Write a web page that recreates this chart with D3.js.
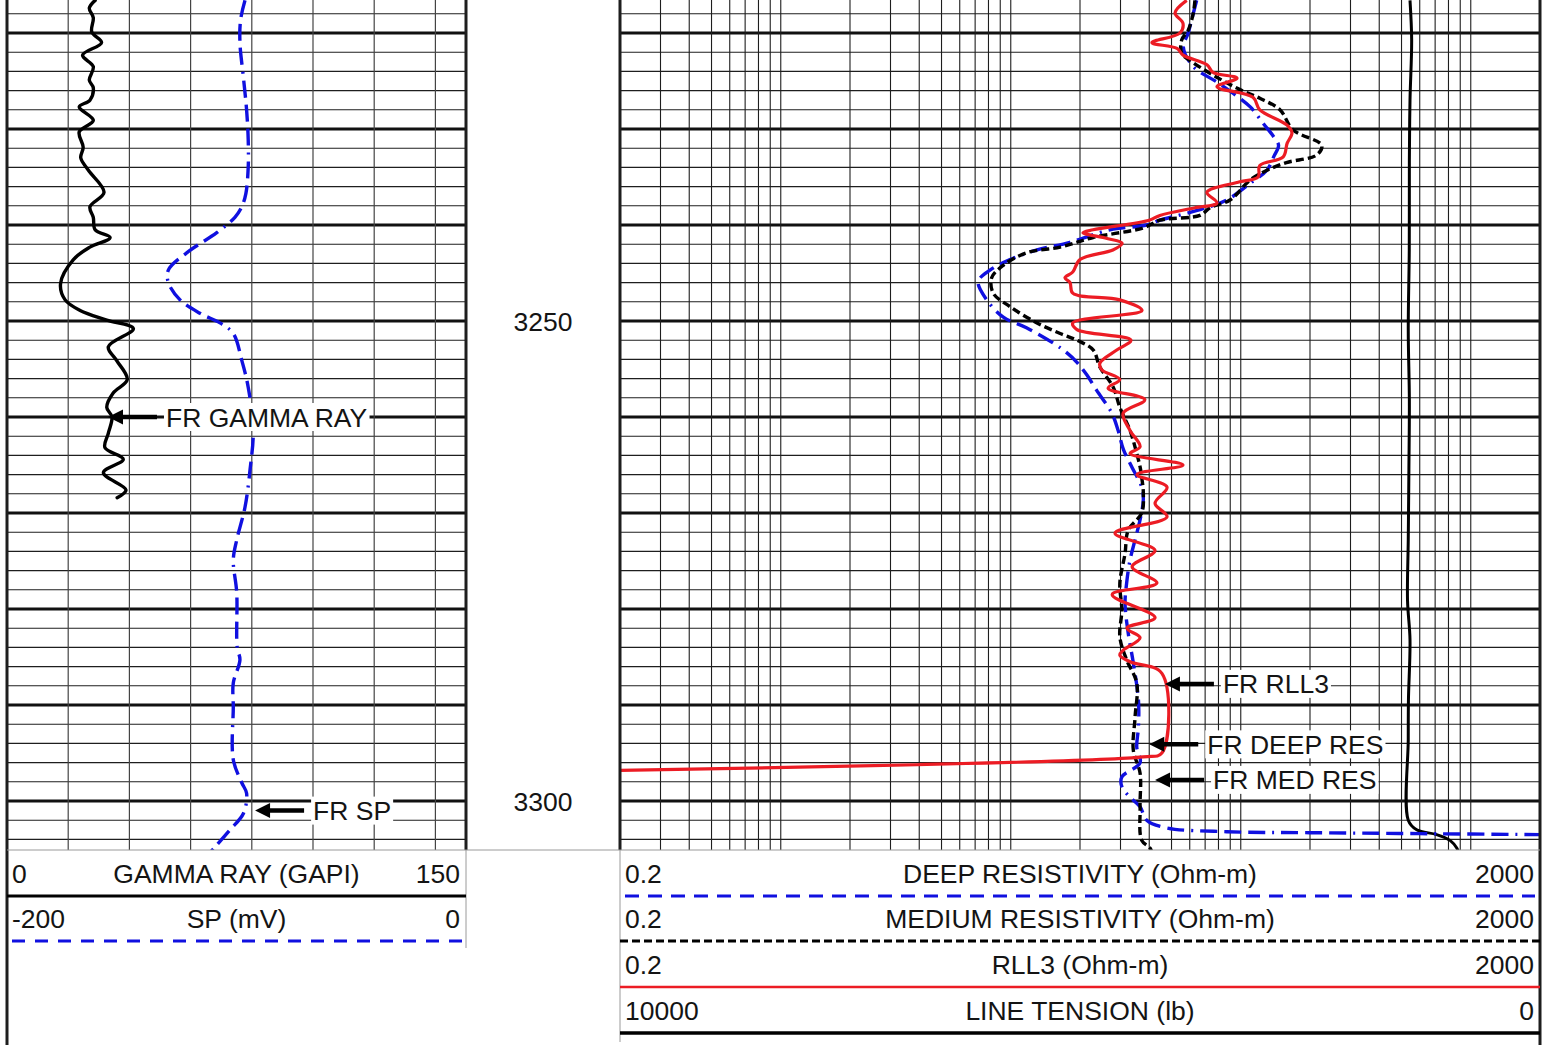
<!DOCTYPE html>
<html>
<head>
<meta charset="utf-8">
<script src="https://cdn.jsdelivr.net/npm/d3@7"></script>
<style>
  html, body { margin: 0; padding: 0; background: #fff; }
  svg { display: block; font-family: "Liberation Sans", Arial, sans-serif; }
</style>
</head>
<body>
<svg id="chart" width="1553" height="1045"></svg>
<script>
// ---- Scale ranges (tick labels shown in the header) ----
const grRange = [0, 150];          // GAPI
const spRange = [-200, 0];         // mV
const resRange = [0.2, 2000];      // Ohm-m, logarithmic
const tensionRange = [10000, 0];   // lb
const depthLabels = [3250, 3300];

// ---- Curves: [depth (ft), value] ----
const gammaRay = [
  [3216.6, 28.8], [3217.4, 26.9], [3218.4, 28.2], [3219.9, 27.7], [3221.0, 30.9],
  [3222.3, 24.7], [3223.5, 28.2], [3224.9, 26.9], [3225.7, 28.2], [3227.0, 27.1],
  [3227.7, 23.6], [3229.1, 28.2], [3230.3, 23.6], [3231.9, 24.9], [3233.0, 24.1],
  [3234.3, 26.6], [3236.6, 31.7], [3238.1, 27.1], [3239.2, 28.2], [3240.5, 28.8],
  [3241.3, 33.7], [3242.3, 27.1], [3243.6, 21.7], [3246.1, 17.5], [3247.8, 19.0],
  [3248.9, 23.9], [3249.9, 32.6], [3250.8, 41.3], [3252.7, 33.1], [3254.1, 35.8],
  [3256.1, 39.3], [3257.5, 34.7], [3259.0, 32.6], [3260.0, 34.3], [3261.7, 33.1],
  [3263.2, 32.0], [3264.4, 38.0], [3265.8, 31.5], [3267.6, 38.9], [3268.4, 36.0]
];

const spontaneousPotential = [
  [3216.6, -96.3], [3218.6, -98.2], [3221.0, -98.5], [3224.6, -97.0], [3228.0, -95.6],
  [3231.1, -94.9], [3234.0, -94.9], [3236.7, -95.9], [3238.1, -97.7], [3239.2, -100.7],
  [3240.8, -108.6], [3242.9, -121.7], [3244.7, -129.7], [3246.0, -129.7], [3247.8, -124.6],
  [3249.2, -115.9], [3250.2, -107.2], [3251.3, -101.4], [3254.1, -97.7], [3256.9, -94.9],
  [3261.4, -92.7], [3265.5, -94.1], [3269.4, -96.3], [3272.8, -99.9], [3274.9, -101.4],
  [3278.3, -99.9], [3284.0, -99.7], [3285.3, -98.5], [3287.7, -101.4], [3290.2, -101.4],
  [3295.7, -101.4], [3298.1, -97.7], [3299.2, -95.6], [3301.3, -97.0], [3303.0, -102.8],
  [3304.8, -109.4], [3306.0, -114.0]
];

const deepRes = [
  [3216.6, 64.3], [3218.6, 61.2], [3220.0, 59.1], [3221.5, 56.3], [3223.5, 62.2],
  [3225.1, 78.6], [3226.3, 92.8], [3227.7, 110], [3229.4, 125], [3230.8, 139],
  [3231.7, 146], [3232.9, 139], [3234.3, 130], [3235.5, 112], [3237.4, 86.9],
  [3238.4, 66.5], [3239.5, 44.5], [3240.0, 39.0], [3240.5, 27.0], [3241.8, 18.1],
  [3242.6, 13.0], [3243.6, 9.92], [3244.7, 8.12], [3245.9, 7.22], [3247.8, 7.86],
  [3249.6, 9.28], [3250.7, 11.7], [3252.3, 15.3], [3253.3, 17.5], [3254.3, 19.4],
  [3255.6, 21.4], [3257.2, 23.6], [3259.6, 27.5], [3261.4, 29.3], [3263.4, 30.9],
  [3265.2, 33.6], [3267.3, 37.1], [3268.6, 37.7], [3270.7, 36.5], [3272.8, 34.7],
  [3274.9, 33.0], [3277.3, 31.9], [3279.4, 31.4], [3282.5, 32.4], [3285.6, 34.1],
  [3289.5, 35.9], [3292.3, 35.9], [3294.4, 35.3], [3296.0, 36.5], [3297.5, 30.4],
  [3298.5, 30.4], [3299.6, 33.0], [3300.6, 36.5], [3302.0, 39.0], [3302.8, 47.6],
  [3303.2, 86.9], [3303.3, 200], [3303.4, 602], [3303.5, 2000]
];

const mediumRes = [
  [3216.6, 63.2], [3217.9, 62.2], [3219.7, 59.1], [3220.7, 55.4], [3222.1, 55.4],
  [3223.1, 62.2], [3224.6, 78.6], [3225.9, 99.3], [3226.8, 121], [3228.0, 148],
  [3230.1, 169], [3231.7, 225], [3232.7, 214], [3233.5, 158], [3234.3, 130],
  [3235.3, 110], [3237.4, 89.8], [3238.2, 73.5], [3239.0, 66.5], [3239.5, 44.5],
  [3240.3, 37.7], [3241.3, 22.8], [3242.3, 16.4], [3242.9, 11.7], [3244.2, 9.28],
  [3245.5, 8.26], [3247.1, 8.39], [3248.5, 9.92], [3250.2, 13.0], [3251.3, 16.4],
  [3252.0, 19.4], [3253.0, 22.8], [3254.8, 24.4], [3256.9, 27.9], [3259.0, 29.8],
  [3261.4, 33.0], [3263.8, 35.3], [3265.2, 36.5], [3266.3, 37.1], [3267.9, 37.7],
  [3270.0, 37.1], [3271.8, 32.4], [3274.2, 31.4], [3277.3, 29.8], [3280.1, 30.4],
  [3282.9, 29.8], [3285.3, 31.9], [3287.7, 35.3], [3291.3, 34.7], [3294.7, 34.1],
  [3297.1, 36.5], [3300.6, 36.5], [3304.1, 37.1], [3304.9, 40.3], [3306.0, 42.0]
];

const rll3 = [
  [3216.6, 58.2], [3217.9, 51.8], [3219.0, 56.1], [3220.0, 54.4], [3221.0, 41.1],
  [3221.6, 52.8], [3222.3, 56.1], [3223.3, 71.3], [3224.1, 75.7], [3224.7, 96.3],
  [3225.6, 78.8], [3226.7, 113], [3228.0, 121], [3229.6, 159], [3230.4, 167],
  [3231.5, 159], [3232.9, 153], [3233.8, 121], [3235.0, 119], [3235.5, 99],
  [3236.6, 71.3], [3237.7, 78.8], [3238.2, 63.2], [3239.0, 44.5], [3239.5, 40.0],
  [3240.5, 22.8], [3240.8, 20.6], [3241.4, 26.2], [3241.9, 30.5], [3242.6, 27.8],
  [3243.6, 20.0], [3244.9, 18.6], [3245.5, 17.2], [3246.0, 18.1], [3247.1, 18.6],
  [3247.8, 29.8], [3248.9, 37.2], [3250.2, 18.6], [3250.9, 19.4], [3252.0, 33.3],
  [3253.0, 29.0], [3254.4, 24.4], [3255.1, 24.9], [3256.1, 29.8], [3257.0, 26.5],
  [3258.2, 38.3], [3259.6, 30.8], [3261.4, 33.0], [3263.1, 36.5], [3263.8, 33.0],
  [3265.0, 56.1], [3266.0, 35.4], [3267.3, 47.8], [3269.0, 42.4], [3270.4, 47.8],
  [3272.1, 28.4], [3273.9, 42.4], [3275.6, 33.7], [3277.3, 43.2], [3278.5, 27.6],
  [3280.9, 42.4], [3282.0, 32.0], [3283.0, 36.5], [3284.3, 30.8], [3284.8, 29.8],
  [3285.5, 33.0], [3286.7, 45.4], [3295.0, 45.4], [3295.4, 37.6], [3296.8, 0.2]
];

const lineTension = [
  [3216.6, 1413], [3220.7, 1395], [3227.0, 1413], [3233.2, 1420], [3242.6, 1421],
  [3250.9, 1432], [3258.2, 1420], [3265.5, 1425], [3272.8, 1432], [3279.1, 1440],
  [3283.2, 1413], [3289.5, 1430], [3293.6, 1432], [3302.0, 1432], [3303.0, 1340],
  [3303.5, 1123], [3304.1, 978], [3304.9, 905], [3306.0, 860]
];

// ---- Curve name tags: [name, depth, value the arrow points at] ----
const leftTags = [["FR GAMMA RAY", 3260.0, 33.0, "gr"], ["FR SP", 3301.0, -91.9, "sp"]];
const rightTags = [["FR RLL3", 3287.8, 46.8], ["FR DEEP RES", 3294.1, 40.0], ["FR MED RES", 3297.8, 42.4]];

// ---- Header titles ----
const leftTitles = ["GAMMA RAY (GAPI)", "SP (mV)"];
const rightTitles = ["DEEP RESISTIVITY (Ohm-m)", "MEDIUM RESISTIVITY (Ohm-m)", "RLL3 (Ohm-m)", "LINE TENSION (lb)"];

// ---------------------------------------------------------------
const svg = d3.select("#chart");
const W = 1553, H = 1045;
const FONT = 26.5, INK = "#141414";
const BLUE = "#1010e0", RED = "#ec1c24";
const DASH_BLUE = "17,7,17,7,17,7,2,7";

const plotTop = 0, plotBottom = 850;
const L0 = 7, L1 = 466, R0 = 620, R1 = 1540;

const y = d3.scaleLinear().domain([3250, 3300]).range([321, 801]);
const xGr = d3.scaleLinear().domain(grRange).range([L0, L1]);
const xSp = d3.scaleLinear().domain(spRange).range([L0, L1]);
const xRes = d3.scaleLog().domain(resRange).range([R0, R1]);
const xTen = d3.scaleLinear().domain(tensionRange).range([R0, R1]);

svg.append("rect").attr("width", W).attr("height", H).attr("fill", "#fff");

const defs = svg.append("defs");
defs.append("clipPath").attr("id", "clipL")
  .append("rect").attr("x", L0).attr("y", plotTop).attr("width", L1 - L0).attr("height", plotBottom - plotTop);
defs.append("clipPath").attr("id", "clipR")
  .append("rect").attr("x", R0).attr("y", plotTop).attr("width", R1 - R0).attr("height", plotBottom - plotTop);

// ---- depth grid ----
const topDepth = y.invert(plotTop), botDepth = y.invert(plotBottom);
const depthLines = d3.range(Math.ceil(topDepth / 2) * 2, botDepth, 2);
const grid = svg.append("g");

[[L0, L1], [R0, R1]].forEach(([a, b]) => {
  grid.selectAll(null).data(depthLines).join("line")
    .attr("x1", a).attr("x2", b)
    .attr("y1", d => y(d)).attr("y2", d => y(d))
    .attr("stroke", d => d % 10 === 0 ? "#111" : "#1e1e1e")
    .attr("stroke-width", d => d % 10 === 0 ? 2.8 : 1.1);
});

// left track verticals (linear, 10 divisions)
const leftTicks = xGr.ticks(10).filter(v => v > grRange[0] && v < grRange[1]);
grid.selectAll(null).data(leftTicks).join("line")
  .attr("x1", d => xGr(d)).attr("x2", d => xGr(d))
  .attr("y1", plotTop).attr("y2", plotBottom)
  .attr("stroke", d => d === 75 ? "#111" : "#444")
  .attr("stroke-width", d => d === 75 ? 1.8 : 1.2);

// right track verticals (logarithmic)
const rightTicks = xRes.ticks().filter(v => v > resRange[0] * 1.0001 && v < resRange[1] * 0.9999);
grid.selectAll(null).data(rightTicks).join("line")
  .attr("x1", d => xRes(d)).attr("x2", d => xRes(d))
  .attr("y1", plotTop).attr("y2", plotBottom)
  .attr("stroke", "#1e1e1e").attr("stroke-width", 1.1);

// ---- curves ----
const curveType = d3.curveCatmullRom.alpha(0.5);
const lineFor = xs => d3.line().x(d => xs(d[1])).y(d => y(d[0])).curve(curveType);

const gL = svg.append("g").attr("clip-path", "url(#clipL)");
gL.append("path").attr("d", lineFor(xSp)(spontaneousPotential))
  .attr("fill", "none").attr("stroke", BLUE).attr("stroke-width", 3.4)
  .attr("stroke-dasharray", DASH_BLUE);
gL.append("path").attr("d", lineFor(xGr)(gammaRay))
  .attr("fill", "none").attr("stroke", "#000").attr("stroke-width", 3.4)
  .attr("stroke-linejoin", "round").attr("stroke-linecap", "round");

const gR = svg.append("g").attr("clip-path", "url(#clipR)");
gR.append("path").attr("d", lineFor(xTen)(lineTension))
  .attr("fill", "none").attr("stroke", "#000").attr("stroke-width", 3);
gR.append("path").attr("d", lineFor(xRes)(deepRes))
  .attr("fill", "none").attr("stroke", BLUE).attr("stroke-width", 3.4)
  .attr("stroke-dasharray", DASH_BLUE);
gR.append("path").attr("d", lineFor(xRes)(mediumRes))
  .attr("fill", "none").attr("stroke", "#000").attr("stroke-width", 3.4)
  .attr("stroke-dasharray", "8,4");
gR.append("path").attr("d", lineFor(xRes)(rll3))
  .attr("fill", "none").attr("stroke", RED).attr("stroke-width", 3.2)
  .attr("stroke-linejoin", "round");

// ---- track borders ----
const borders = svg.append("g").attr("stroke", "#1e1e1e").attr("stroke-width", 3);
borders.append("line").attr("x1", L0).attr("x2", L0).attr("y1", plotTop).attr("y2", H);
borders.append("line").attr("x1", L1).attr("x2", L1).attr("y1", plotTop).attr("y2", plotBottom);
borders.append("line").attr("x1", R0).attr("x2", R0).attr("y1", plotTop).attr("y2", plotBottom);
borders.append("line").attr("x1", R1).attr("x2", R1).attr("y1", plotTop).attr("y2", H);

// ---- depth labels ----
svg.append("g").selectAll("text").data(depthLabels).join("text")
  .attr("x", (L1 + R0) / 2).attr("y", d => y(d) + 9.5)
  .attr("text-anchor", "middle").attr("font-size", FONT).attr("fill", INK)
  .text(d => d);

// ---- curve name tags with arrows ----
function drawTag(g, name, tipX, tipY) {
  const t = g.append("g");
  t.append("path")
    .attr("d", `M${tipX},${tipY} L${tipX + 15},${tipY - 7.5} L${tipX + 15},${tipY + 7.5} Z`)
    .attr("fill", "#000");
  t.append("line").attr("x1", tipX + 12).attr("x2", tipX + 49)
    .attr("y1", tipY).attr("y2", tipY).attr("stroke", "#000").attr("stroke-width", 4.5);
  const bg = t.append("rect").attr("fill", "#fff");
  const txt = t.append("text").attr("x", tipX + 58).attr("y", tipY + 9.5)
    .attr("font-size", FONT).attr("fill", INK).text(name);
  const bb = txt.node().getBBox();
  bg.attr("x", bb.x - 2).attr("y", tipY - 14).attr("width", bb.width + 4).attr("height", 28);
}
const tags = svg.append("g");
leftTags.forEach(([name, d, v, kind]) => drawTag(tags, name, (kind === "gr" ? xGr : xSp)(v), y(d)));
rightTags.forEach(([name, d, v]) => drawTag(tags, name, xRes(v), y(d)));

// ---- header ----
const head = svg.append("g");
head.append("line").attr("x1", L0).attr("x2", R1).attr("y1", plotBottom).attr("y2", plotBottom)
  .attr("stroke", "#9a9a9a").attr("stroke-width", 1);
head.append("line").attr("x1", L1).attr("x2", L1).attr("y1", plotBottom).attr("y2", 948)
  .attr("stroke", "#9a9a9a").attr("stroke-width", 1);
head.append("line").attr("x1", R0).attr("x2", R0).attr("y1", plotBottom).attr("y2", 1042)
  .attr("stroke", "#9a9a9a").attr("stroke-width", 1);

const fmt = v => String(v);
const rowBase = [883, 928, 974, 1020];
const rowLine = [896, 941, 987, 1033];

function headerRow(x0, x1, title, lo, hi, i) {
  head.append("text").attr("x", x0 + 5).attr("y", rowBase[i])
    .attr("font-size", FONT).attr("fill", INK).text(lo);
  head.append("text").attr("x", (x0 + x1) / 2).attr("y", rowBase[i]).attr("text-anchor", "middle")
    .attr("font-size", FONT).attr("fill", INK).text(title);
  head.append("text").attr("x", x1 - 6).attr("y", rowBase[i]).attr("text-anchor", "end")
    .attr("font-size", FONT).attr("fill", INK).text(hi);
}

headerRow(L0, L1, leftTitles[0], fmt(xGr.domain()[0]), fmt(xGr.domain()[1]), 0);
headerRow(L0, L1, leftTitles[1], fmt(xSp.domain()[0]), fmt(xSp.domain()[1]), 1);
head.append("line").attr("x1", L0).attr("x2", L1).attr("y1", rowLine[0]).attr("y2", rowLine[0])
  .attr("stroke", "#000").attr("stroke-width", 3);
head.append("line").attr("x1", L0 + 5).attr("x2", L1 - 3).attr("y1", rowLine[1]).attr("y2", rowLine[1])
  .attr("stroke", BLUE).attr("stroke-width", 3).attr("stroke-dasharray", "13,10");

const resLo = fmt(xRes.domain()[0]), resHi = fmt(xRes.domain()[1]);
headerRow(R0, R1, rightTitles[0], resLo, resHi, 0);
headerRow(R0, R1, rightTitles[1], resLo, resHi, 1);
headerRow(R0, R1, rightTitles[2], resLo, resHi, 2);
headerRow(R0, R1, rightTitles[3], fmt(xTen.domain()[0]), fmt(xTen.domain()[1]), 3);

head.append("line").attr("x1", R0 + 5).attr("x2", R1 - 5).attr("y1", rowLine[0]).attr("y2", rowLine[0])
  .attr("stroke", BLUE).attr("stroke-width", 3).attr("stroke-dasharray", "14,9");
head.append("line").attr("x1", R0).attr("x2", R1).attr("y1", rowLine[1]).attr("y2", rowLine[1])
  .attr("stroke", "#000").attr("stroke-width", 3).attr("stroke-dasharray", "8,4");
head.append("line").attr("x1", R0).attr("x2", R1).attr("y1", rowLine[2]).attr("y2", rowLine[2])
  .attr("stroke", RED).attr("stroke-width", 2.6);
head.append("line").attr("x1", R0).attr("x2", R1).attr("y1", rowLine[3]).attr("y2", rowLine[3])
  .attr("stroke", "#000").attr("stroke-width", 3.5);
</script>
</body>
</html>
